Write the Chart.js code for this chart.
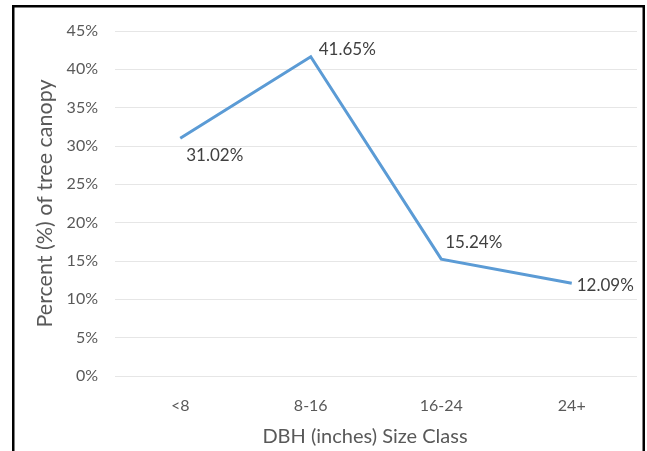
<!DOCTYPE html>
<html>
<head>
<meta charset="utf-8">
<script src="https://cdn.jsdelivr.net/npm/chart.js@4/dist/chart.umd.min.js"></script>
<style>
  html, body { margin: 0; padding: 0; background: #ffffff; }
  #wrap { position: relative; width: 647px; height: 451px; }
</style>
</head>
<body>
<div id="wrap"><canvas id="chart" width="647" height="451"></canvas></div>
<script>
// Share of tree canopy by trunk diameter (DBH) size class
const sizeClasses = ['<8', '8-16', '16-24', '24+'];
const canopyPercent = [31.02, 41.65, 15.24, 12.09];
const yTickMax = 45;
const yTickStep = 5;
const xAxisTitle = 'DBH (inches) Size Class';
const yAxisTitle = 'Percent (%) of tree canopy';

const FONT = "Lato, 'Open Sans', sans-serif";
const TEXT = '#595959';

// Where each value label sits relative to its point (dx, dy in px)
const labelOffsets = [[6, 17], [8, -7], [4, -17], [5, 2]];

const framePlugin = {
  id: 'frame',
  afterDraw(chart) {
    const c = chart.ctx;
    c.save();
    c.strokeStyle = '#000000';
    c.lineWidth = 2.5;
    c.strokeRect(13.25, 6.25, 630.5, 460);
    c.restore();
  }
};

// Category axis title, centred a little left of the plot centre
const xTitlePlugin = {
  id: 'xTitle',
  afterDraw(chart) {
    const c = chart.ctx;
    const a = chart.chartArea;
    c.save();
    c.font = '20px ' + FONT;
    c.fillStyle = TEXT;
    c.textAlign = 'center';
    c.textBaseline = 'middle';
    c.fillText(xAxisTitle, (a.left + a.right) / 2 - 11, a.bottom + 61);
    c.restore();
  }
};

const valueLabels = {
  id: 'valueLabels',
  afterDatasetsDraw(chart) {
    const c = chart.ctx;
    const meta = chart.getDatasetMeta(0);
    c.save();
    c.font = '17px ' + FONT;
    c.fillStyle = '#404040';
    c.textAlign = 'left';
    c.textBaseline = 'middle';
    meta.data.forEach((pt, i) => {
      const v = chart.data.datasets[0].data[i];
      const [dx, dy] = labelOffsets[i];
      c.fillText(v.toFixed(2) + '%', pt.x + dx, pt.y + dy);
    });
    c.restore();
  }
};

new Chart(document.getElementById('chart'), {
  type: 'line',
  data: {
    labels: sizeClasses,
    datasets: [{
      data: canopyPercent,
      borderColor: '#5B9BD5',
      borderWidth: 3,
      pointRadius: 0,
      tension: 0,
      fill: false
    }]
  },
  options: {
    responsive: false,
    animation: false,
    layout: { padding: { left: 30, right: 10, top: 31, bottom: 0 } },
    plugins: {
      legend: { display: false },
      tooltip: { enabled: false }
    },
    scales: {
      x: {
        offset: true,
        grid: { display: false, drawTicks: false },
        border: { display: false },
        ticks: { color: TEXT, font: { family: FONT, size: 16 }, padding: 20 },
        afterFit(scale) { scale.height = 75; }
      },
      y: {
        min: 0,
        max: yTickMax,
        grid: { color: '#E6E6E6', lineWidth: 1, drawTicks: false },
        border: { display: false },
        ticks: {
          stepSize: yTickStep,
          color: TEXT,
          font: { family: FONT, size: 16 },
          padding: 17,
          callback: v => v + '%'
        },
        title: {
          display: true,
          text: yAxisTitle,
          color: TEXT,
          font: { family: FONT, size: 21.5 },
          padding: { top: 2, bottom: 0 }
        },
        afterFit(scale) { scale.width = 85; }
      }
    }
  },
  plugins: [framePlugin, xTitlePlugin, valueLabels]
});
</script>
</body>
</html>
